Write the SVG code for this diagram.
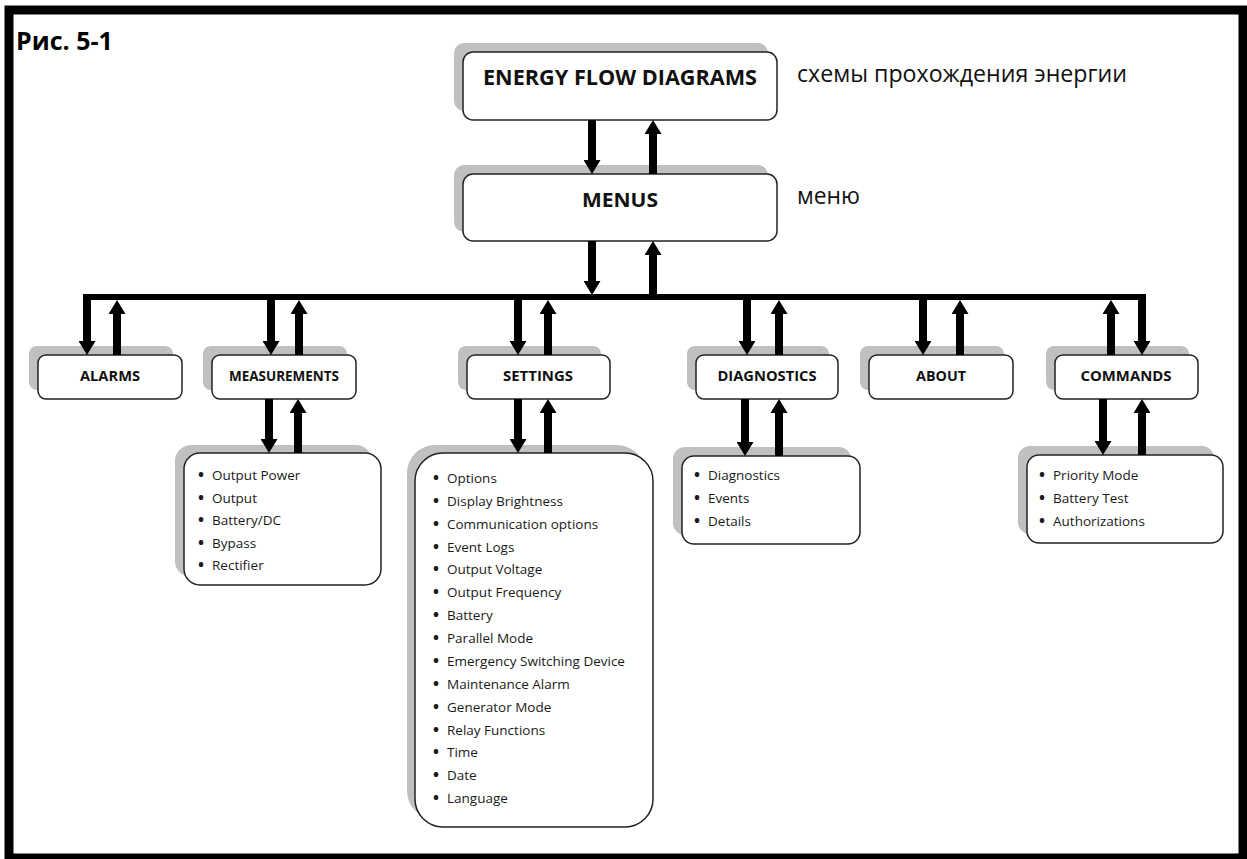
<svg xmlns="http://www.w3.org/2000/svg" width="1247" height="859" viewBox="0 0 1247 859">
<style>
.frame{fill:none;stroke:#000;stroke-width:9}
.sh{fill:#c0c0c0}
.bx{fill:#fff;stroke:#222;stroke-width:1.5}
.hd{font-family:"Open Sans","Liberation Sans",sans-serif;font-weight:bold;fill:#111;text-anchor:middle}
.lb{font-family:"Open Sans","Liberation Sans",sans-serif;font-weight:bold;font-size:15px;fill:#111;text-anchor:middle}
.li{font-family:"Open Sans","Liberation Sans",sans-serif;font-size:13.5px;fill:#1a1a1a}
.bu{font-size:16px;font-weight:bold}
.ru{font-family:"Open Sans","Liberation Sans",sans-serif;font-size:23px;fill:#111}
.ar{stroke:#000;stroke-width:8;fill:none;marker-end:url(#ah)}
.bus{stroke:#000;stroke-width:6;fill:none}
</style>
<defs>
<marker id="ah" viewBox="0 0 14 17" refX="1" refY="8.5" markerWidth="14" markerHeight="17" markerUnits="userSpaceOnUse" orient="auto">
<path d="M0,0 L14,8.5 L0,17 Z" fill="#000"/>
</marker>
</defs>
<rect width="1247" height="859" fill="#fff"/>
<rect class="frame" x="9" y="10" width="1234" height="848"/>
<text x="16" y="50" font-family="Open Sans, Liberation Sans, sans-serif" font-weight="bold" font-size="25" fill="#000">Рис. 5-1</text>

<g id="energy">
<rect class="sh" x="454" y="43" width="314" height="68" rx="10"/>
<rect class="bx" x="463" y="52" width="314" height="68" rx="10"/>
<text class="hd" x="620" y="85" font-size="21" textLength="274" lengthAdjust="spacingAndGlyphs">ENERGY FLOW DIAGRAMS</text>
</g>
<text class="ru" x="797" y="82" textLength="330" lengthAdjust="spacingAndGlyphs">схемы прохождения энергии</text>

<g id="menus">
<rect class="sh" x="454" y="165" width="314" height="67" rx="10"/>
<rect class="bx" x="463" y="174" width="314" height="67" rx="10"/>
<text class="hd" x="620" y="207" font-size="20" textLength="76" lengthAdjust="spacingAndGlyphs">MENUS</text>
</g>
<text class="ru" x="797" y="204" textLength="63" lengthAdjust="spacingAndGlyphs">меню</text>

<g id="alarms">
<rect class="sh" x="29" y="346" width="144" height="44" rx="8"/>
<rect class="bx" x="38" y="355" width="144" height="44" rx="8"/>
<text class="lb" x="110" y="381" textLength="60" lengthAdjust="spacingAndGlyphs">ALARMS</text>
</g>
<g id="measurements">
<rect class="sh" x="203" y="346" width="144" height="44" rx="8"/>
<rect class="bx" x="212" y="355" width="144" height="44" rx="8"/>
<text class="lb" x="284" y="381" textLength="110" lengthAdjust="spacingAndGlyphs">MEASUREMENTS</text>
</g>
<g id="settings">
<rect class="sh" x="458" y="346" width="143" height="44" rx="8"/>
<rect class="bx" x="467" y="355" width="143" height="44" rx="8"/>
<text class="lb" x="538" y="381" textLength="70" lengthAdjust="spacingAndGlyphs">SETTINGS</text>
</g>
<g id="diagnostics">
<rect class="sh" x="687" y="346" width="142" height="44" rx="8"/>
<rect class="bx" x="696" y="355" width="142" height="44" rx="8"/>
<text class="lb" x="767" y="381" textLength="99" lengthAdjust="spacingAndGlyphs">DIAGNOSTICS</text>
</g>
<g id="about">
<rect class="sh" x="860" y="346" width="144" height="44" rx="8"/>
<rect class="bx" x="869" y="355" width="144" height="44" rx="8"/>
<text class="lb" x="941" y="381" textLength="50" lengthAdjust="spacingAndGlyphs">ABOUT</text>
</g>
<g id="commands">
<rect class="sh" x="1046" y="346" width="143" height="44" rx="8"/>
<rect class="bx" x="1055" y="355" width="143" height="44" rx="8"/>
<text class="lb" x="1126" y="381" textLength="91" lengthAdjust="spacingAndGlyphs">COMMANDS</text>
</g>

<g id="measurements-list">
<rect class="sh" x="175" y="445" width="197" height="132" rx="16"/>
<rect class="bx" x="184" y="453" width="197" height="132" rx="16"/>
<text class="li" x="198" y="480"><tspan class="bu">•</tspan><tspan x="212">Output Power</tspan></text>
<text class="li" x="198" y="502.5"><tspan class="bu">•</tspan><tspan x="212">Output</tspan></text>
<text class="li" x="198" y="525"><tspan class="bu">•</tspan><tspan x="212">Battery/DC</tspan></text>
<text class="li" x="198" y="547.5"><tspan class="bu">•</tspan><tspan x="212">Bypass</tspan></text>
<text class="li" x="198" y="570"><tspan class="bu">•</tspan><tspan x="212">Rectifier</tspan></text>
</g>

<g id="settings-list">
<rect class="sh" x="407" y="445" width="238" height="374" rx="28"/>
<rect class="bx" x="415" y="453" width="238" height="374" rx="28"/>
<text class="li" x="433" y="483"><tspan class="bu">•</tspan><tspan x="447">Options</tspan></text>
<text class="li" x="433" y="505.9"><tspan class="bu">•</tspan><tspan x="447">Display Brightness</tspan></text>
<text class="li" x="433" y="528.7"><tspan class="bu">•</tspan><tspan x="447">Communication options</tspan></text>
<text class="li" x="433" y="551.6"><tspan class="bu">•</tspan><tspan x="447">Event Logs</tspan></text>
<text class="li" x="433" y="574.4"><tspan class="bu">•</tspan><tspan x="447">Output Voltage</tspan></text>
<text class="li" x="433" y="597.3"><tspan class="bu">•</tspan><tspan x="447">Output Frequency</tspan></text>
<text class="li" x="433" y="620.2"><tspan class="bu">•</tspan><tspan x="447">Battery</tspan></text>
<text class="li" x="433" y="643"><tspan class="bu">•</tspan><tspan x="447">Parallel Mode</tspan></text>
<text class="li" x="433" y="665.9"><tspan class="bu">•</tspan><tspan x="447">Emergency Switching Device</tspan></text>
<text class="li" x="433" y="688.7"><tspan class="bu">•</tspan><tspan x="447">Maintenance Alarm</tspan></text>
<text class="li" x="433" y="711.6"><tspan class="bu">•</tspan><tspan x="447">Generator Mode</tspan></text>
<text class="li" x="433" y="734.5"><tspan class="bu">•</tspan><tspan x="447">Relay Functions</tspan></text>
<text class="li" x="433" y="757.3"><tspan class="bu">•</tspan><tspan x="447">Time</tspan></text>
<text class="li" x="433" y="780.2"><tspan class="bu">•</tspan><tspan x="447">Date</tspan></text>
<text class="li" x="433" y="803"><tspan class="bu">•</tspan><tspan x="447">Language</tspan></text>
</g>

<g id="diagnostics-list">
<rect class="sh" x="673" y="447" width="178" height="88" rx="12"/>
<rect class="bx" x="682" y="456" width="178" height="88" rx="12"/>
<text class="li" x="694" y="480"><tspan class="bu">•</tspan><tspan x="708">Diagnostics</tspan></text>
<text class="li" x="694" y="503"><tspan class="bu">•</tspan><tspan x="708">Events</tspan></text>
<text class="li" x="694" y="526"><tspan class="bu">•</tspan><tspan x="708">Details</tspan></text>
</g>

<g id="commands-list">
<rect class="sh" x="1018" y="446" width="196" height="88" rx="12"/>
<rect class="bx" x="1027" y="455" width="196" height="88" rx="12"/>
<text class="li" x="1039" y="480"><tspan class="bu">•</tspan><tspan x="1053">Priority Mode</tspan></text>
<text class="li" x="1039" y="503"><tspan class="bu">•</tspan><tspan x="1053">Battery Test</tspan></text>
<text class="li" x="1039" y="526"><tspan class="bu">•</tspan><tspan x="1053">Authorizations</tspan></text>
</g>

<g id="connectors">
<path class="bus" d="M83,297 H1146"/>
<line class="ar" x1="592" y1="120" x2="592" y2="161"/>
<line class="ar" x1="653" y1="174" x2="653" y2="133"/>
<line class="ar" x1="592" y1="241" x2="592" y2="282"/>
<line class="ar" x1="653" y1="297" x2="653" y2="254"/>

<line class="ar" x1="87" y1="294" x2="87" y2="342"/>
<line class="ar" x1="117" y1="355" x2="117" y2="313"/>
<line class="ar" x1="271" y1="300" x2="271" y2="342"/>
<line class="ar" x1="299" y1="355" x2="299" y2="313"/>
<line class="ar" x1="518" y1="300" x2="518" y2="342"/>
<line class="ar" x1="548" y1="355" x2="548" y2="313"/>
<line class="ar" x1="747" y1="300" x2="747" y2="342"/>
<line class="ar" x1="779" y1="355" x2="779" y2="313"/>
<line class="ar" x1="923" y1="300" x2="923" y2="342"/>
<line class="ar" x1="960" y1="355" x2="960" y2="313"/>
<line class="ar" x1="1111" y1="355" x2="1111" y2="313"/>
<line class="ar" x1="1142" y1="294" x2="1142" y2="342"/>

<line class="ar" x1="269" y1="399" x2="269" y2="440"/>
<line class="ar" x1="298" y1="453" x2="298" y2="412"/>
<line class="ar" x1="518" y1="399" x2="518" y2="440"/>
<line class="ar" x1="548" y1="453" x2="548" y2="412"/>
<line class="ar" x1="745" y1="399" x2="745" y2="443"/>
<line class="ar" x1="779" y1="456" x2="779" y2="412"/>
<line class="ar" x1="1103" y1="399" x2="1103" y2="442"/>
<line class="ar" x1="1142" y1="455" x2="1142" y2="412"/>
</g>
</svg>
